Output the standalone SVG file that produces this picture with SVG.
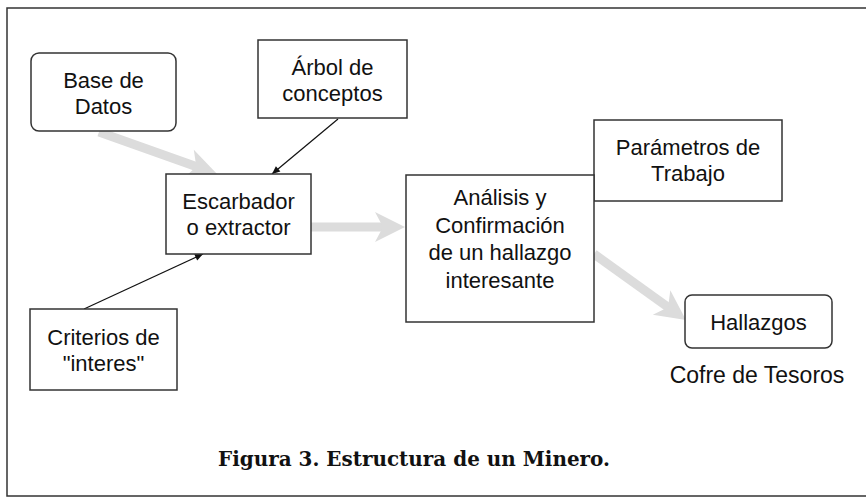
<svg xmlns="http://www.w3.org/2000/svg" width="866" height="498" viewBox="0 0 866 498">
<style>
  .box { fill: #ffffff; stroke: #333333; stroke-width: 1.5; }
  .lbl { font-family: "Liberation Sans", Arial, sans-serif; font-size: 22px; fill: #111111; text-anchor: middle; }
  .gray { stroke: #dcdcdc; stroke-width: 9; fill: none; marker-end: url(#gh); }
  .thin { stroke: #111111; stroke-width: 1.2; fill: none; marker-end: url(#bh); }
  .cap { font-family: "DejaVu Serif", "Liberation Serif", serif; font-weight: bold; font-size: 20px; fill: #111111; }
</style>
<defs>
  <marker id="gh" markerUnits="userSpaceOnUse" markerWidth="32" markerHeight="32" refX="10" refY="15" orient="auto" overflow="visible">
    <path d="M0,0 L30,15 L0,30 L8,15 Z" fill="#dcdcdc"/>
  </marker>
  <marker id="bh" markerUnits="userSpaceOnUse" markerWidth="10" markerHeight="8" refX="8" refY="3.5" orient="auto" overflow="visible">
    <path d="M0,0 L8,3.5 L0,7 Z" fill="#111111"/>
  </marker>
</defs>
<rect x="7" y="8" width="880" height="488" fill="#ffffff" stroke="#333333" stroke-width="1.5"/>
<g id="connectors">
  <line class="gray" x1="99" y1="132" x2="198.2" y2="167.3"/>
  <line class="gray" x1="311" y1="227" x2="385" y2="227"/>
  <line class="gray" x1="594" y1="254" x2="669.7" y2="308.3"/>
  <line class="thin" x1="338" y1="119" x2="272" y2="174"/>
  <line class="thin" x1="84" y1="309" x2="203" y2="254"/>
</g>
<g id="base-datos">
  <rect class="box" x="31" y="53" width="145" height="78" rx="8"/>
  <text class="lbl" x="103.5" y="88">Base de</text>
  <text class="lbl" x="103.5" y="114">Datos</text>
</g>
<g id="arbol">
  <rect class="box" x="258" y="40" width="149" height="78"/>
  <text class="lbl" x="332.5" y="75">Árbol de</text>
  <text class="lbl" x="332.5" y="101">conceptos</text>
</g>
<g id="escarbador">
  <rect class="box" x="166" y="174" width="145" height="80"/>
  <text class="lbl" x="238.5" y="209">Escarbador</text>
  <text class="lbl" x="238.5" y="235">o extractor</text>
</g>
<g id="parametros">
  <rect class="box" x="594" y="120" width="188" height="81"/>
  <text class="lbl" x="688" y="155">Parámetros de</text>
  <text class="lbl" x="688" y="181">Trabajo</text>
</g>
<g id="analisis">
  <rect class="box" x="406" y="175" width="188" height="147"/>
  <text class="lbl" x="500" y="205">Análisis y</text>
  <text class="lbl" x="500" y="233">Confirmación</text>
  <text class="lbl" x="500" y="260">de un hallazgo</text>
  <text class="lbl" x="500" y="288">interesante</text>
</g>
<g id="hallazgos">
  <rect class="box" x="685" y="295" width="147" height="53" rx="7"/>
  <text class="lbl" x="758.5" y="330">Hallazgos</text>
  <text class="lbl" x="757" y="383" style="font-size:23px">Cofre de Tesoros</text>
</g>
<g id="criterios">
  <rect class="box" x="30" y="309" width="147" height="81"/>
  <text class="lbl" x="103.5" y="345">Criterios de</text>
  <text class="lbl" x="103.5" y="371">"interes"</text>
</g>
<text class="cap" x="218" y="466" textLength="392" lengthAdjust="spacingAndGlyphs">Figura 3. Estructura de un Minero.</text>
</svg>
